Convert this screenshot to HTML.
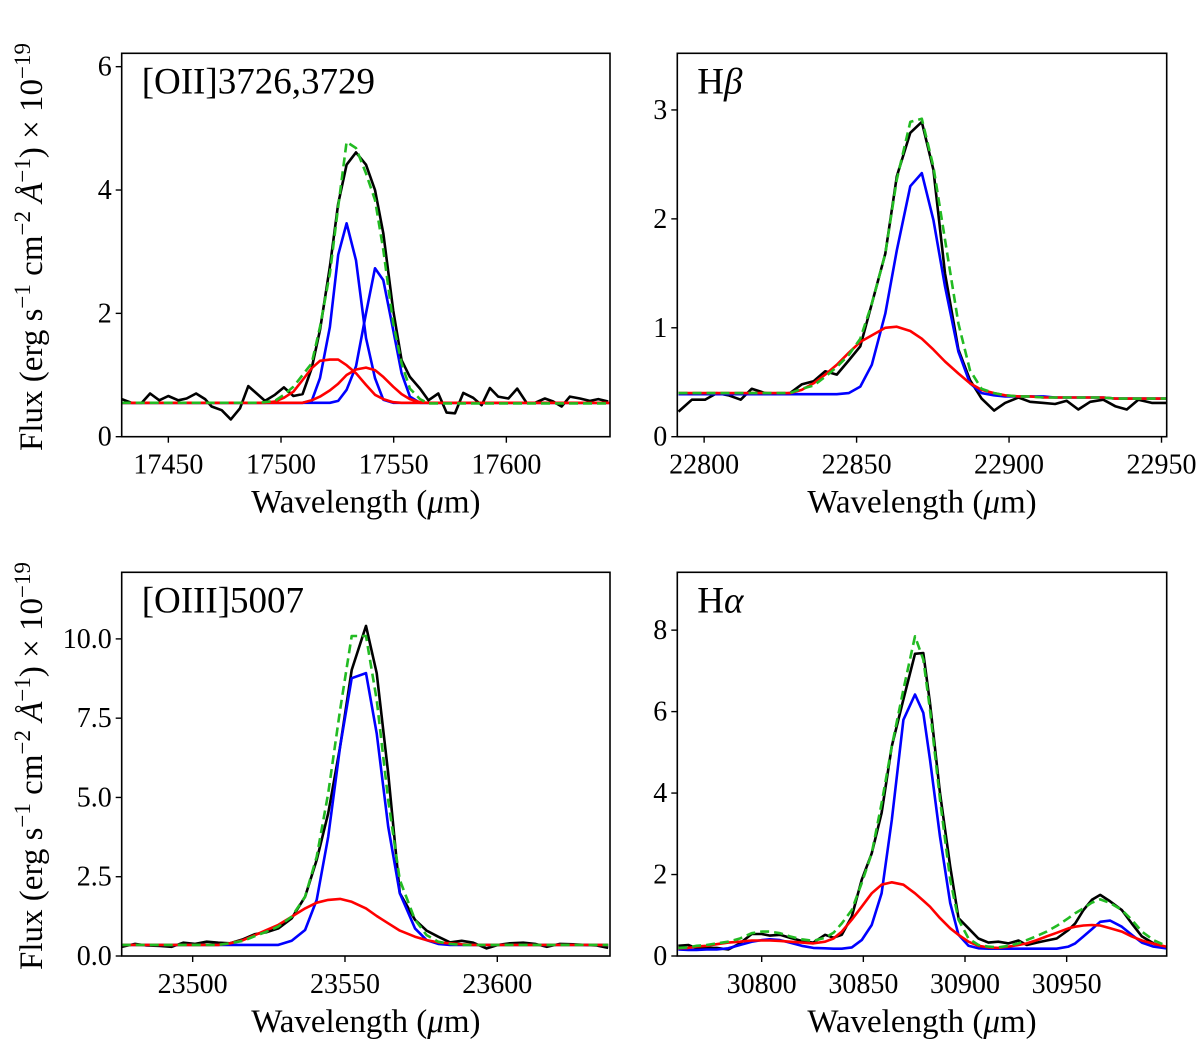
<!DOCTYPE html>
<html><head><meta charset="utf-8">
<style>
html,body{margin:0;padding:0;background:#fff;}
svg{display:block;font-family:"Liberation Serif",serif;}
</style></head>
<body>
<svg id="fig" width="1200" height="1046" viewBox="0 0 1200 1046" xmlns="http://www.w3.org/2000/svg">
<text transform="translate(42,247) rotate(-90)" text-anchor="middle" font-size="33">Flux (erg s<tspan dy="-12" font-size="23">−1</tspan><tspan dy="12"> cm</tspan><tspan dy="-12" font-size="23">−2</tspan><tspan dy="12"> </tspan><tspan font-style="italic">Å</tspan><tspan dy="-12" font-size="23">−1</tspan><tspan dy="12">) × 10</tspan><tspan dy="-12" font-size="23">−19</tspan></text>
<text transform="translate(42,766) rotate(-90)" text-anchor="middle" font-size="33">Flux (erg s<tspan dy="-12" font-size="23">−1</tspan><tspan dy="12"> cm</tspan><tspan dy="-12" font-size="23">−2</tspan><tspan dy="12"> </tspan><tspan font-style="italic">Å</tspan><tspan dy="-12" font-size="23">−1</tspan><tspan dy="12">) × 10</tspan><tspan dy="-12" font-size="23">−19</tspan></text>
</svg>
<script>
// ---------- Panel 1: [OII]3726,3729 ----------
const p1Wl = [17429.3,17433.7,17438.2,17441.9,17446.0,17450,17454.4,17458.1,17462.3,17466.3,17469.2,17473.7,17477.7,17481.8,17485.5,17489.2,17492.9,17497.3,17501.3,17505.5,17509.6,17513.6,17517.3,17521.7,17525.4,17529.1,17533.3,17537.7,17541.7,17545.4,17549.8,17553.5,17557.2,17561.7,17565.4,17569.8,17573.5,17577.2,17580.9,17585.3,17589.0,17592.7,17596.4,17600.9,17604.8,17609.0,17612.7,17617.1,17620.8,17624.5,17628.2,17632.7,17637.1,17640.8,17645.2];
const p1Obs = [0.61,0.55,0.55,0.70,0.59,0.66,0.59,0.62,0.70,0.61,0.49,0.43,0.28,0.46,0.82,0.70,0.58,0.68,0.80,0.66,0.69,1.11,1.73,2.76,3.78,4.41,4.61,4.41,4.00,3.30,2.05,1.24,0.97,0.78,0.59,0.70,0.39,0.38,0.71,0.63,0.51,0.79,0.65,0.62,0.78,0.55,0.55,0.62,0.57,0.49,0.65,0.62,0.58,0.61,0.57];
const p1FitWl = [17429.3,17489.2,17492.9,17497.3,17501.3,17505.5,17509.6,17513.6,17517.3,17521.7,17525.4,17529.1,17533.3,17537.7,17541.7,17545.4,17549.8,17553.5,17557.2,17561.7,17565.4,17646];
const p1Blue1 = [0.55,0.55,0.55,0.55,0.55,0.55,0.55,0.58,0.95,1.78,2.95,3.46,2.86,1.60,0.95,0.60,0.55,0.55,0.55,0.55,0.55,0.55];
const p1Blue2 = [0.55,0.55,0.55,0.55,0.55,0.55,0.55,0.55,0.55,0.55,0.58,0.76,1.14,2.00,2.73,2.54,1.73,1.03,0.65,0.55,0.55,0.55];
const p1Red1 = [0.55,0.55,0.55,0.57,0.63,0.73,0.92,1.11,1.23,1.25,1.25,1.16,1.03,0.84,0.68,0.61,0.56,0.55,0.55,0.55,0.55,0.55];
const p1Red2 = [0.55,0.55,0.55,0.55,0.55,0.55,0.55,0.59,0.65,0.75,0.86,1.00,1.09,1.12,1.08,0.97,0.81,0.69,0.61,0.56,0.55,0.55];
const p1Total = [0.55,0.55,0.56,0.58,0.68,0.81,1.00,1.19,1.78,2.65,3.73,4.78,4.68,4.27,3.84,3.03,1.84,1.19,0.78,0.61,0.54,0.54];
const p1XTicks = [17450,17500,17550,17600];
const p1YTicks = [0,2,4,6];
const p1YTickLabels = ["0","2","4","6"];

// ---------- Panel 2: Hbeta ----------
const p2Wl = [22791.6,22796.0,22800.3,22804.2,22808.0,22812.0,22815.6,22820.0,22823.8,22828.2,22832.0,22835.9,22839.7,22843.5,22847.4,22851.2,22855.0,22859.4,22863.2,22867.6,22871.4,22875.2,22879.0,22883.4,22887.2,22891.0,22895.1,22898.7,22903.1,22906.9,22911.3,22915.1,22918.9,22922.7,22926.6,22930.9,22934.8,22938.6,22942.4,22946.8,22951.5];
const p2Obs = [0.23,0.34,0.34,0.40,0.38,0.34,0.44,0.40,0.39,0.40,0.48,0.51,0.60,0.57,0.70,0.83,1.22,1.68,2.39,2.79,2.89,2.45,1.50,0.80,0.52,0.35,0.24,0.31,0.36,0.32,0.31,0.30,0.33,0.25,0.32,0.34,0.28,0.25,0.34,0.31,0.31];
const p2Blue = [0.39,0.39,0.39,0.39,0.39,0.39,0.39,0.39,0.39,0.39,0.39,0.39,0.39,0.39,0.40,0.46,0.66,1.13,1.71,2.30,2.42,1.99,1.38,0.78,0.49,0.40,0.38,0.37,0.37,0.37,0.37,0.36,0.36,0.36,0.36,0.36,0.35,0.35,0.35,0.35,0.35];
const p2Red = [0.40,0.40,0.40,0.40,0.40,0.40,0.40,0.40,0.40,0.40,0.43,0.49,0.57,0.66,0.77,0.87,0.93,1.00,1.01,0.97,0.90,0.80,0.69,0.58,0.49,0.43,0.40,0.38,0.37,0.37,0.36,0.36,0.36,0.36,0.36,0.36,0.35,0.35,0.35,0.35,0.35];
const p2Total = [0.40,0.40,0.40,0.40,0.40,0.40,0.40,0.40,0.40,0.40,0.44,0.47,0.55,0.64,0.75,0.90,1.22,1.68,2.36,2.89,2.92,2.48,1.81,1.04,0.61,0.44,0.40,0.38,0.37,0.37,0.36,0.36,0.36,0.36,0.36,0.36,0.35,0.35,0.35,0.35,0.35];
const p2XTicks = [22800,22850,22900,22950];
const p2YTicks = [0,1,2,3];
const p2YTickLabels = ["0","1","2","3"];

// ---------- Panel 3: [OIII]5007 ----------
const p3Wl = [23476.7,23481.1,23484.9,23489.3,23493.1,23496.9,23500.8,23504.6,23508.4,23512.3,23516.6,23520.5,23524.3,23528.1,23532.5,23536.9,23540.7,23544.5,23548.4,23552.2,23556.9,23560.4,23564.2,23568.0,23573.0,23576.8,23580.6,23584.5,23588.3,23592.1,23596.5,23600.3,23604.1,23608.5,23612.4,23616.2,23620.6,23624.9,23628.8,23632.6,23636.4];
const p3Obs = [0.29,0.38,0.33,0.32,0.29,0.42,0.38,0.45,0.42,0.40,0.53,0.69,0.75,0.87,1.19,1.87,3.03,4.50,6.60,9.02,10.41,8.92,5.76,1.98,1.14,0.80,0.61,0.43,0.48,0.42,0.24,0.35,0.40,0.42,0.38,0.29,0.38,0.37,0.35,0.33,0.26];
const p3Blue = [0.35,0.35,0.35,0.35,0.35,0.35,0.35,0.35,0.35,0.35,0.35,0.35,0.35,0.35,0.48,0.82,1.77,3.76,6.60,8.76,8.92,7.02,4.08,1.98,0.87,0.50,0.38,0.35,0.35,0.35,0.35,0.35,0.35,0.35,0.35,0.35,0.35,0.35,0.35,0.35,0.35];
const p3Red = [0.35,0.35,0.35,0.35,0.35,0.35,0.35,0.35,0.35,0.40,0.50,0.66,0.82,0.98,1.24,1.50,1.68,1.77,1.80,1.71,1.50,1.26,1.03,0.80,0.61,0.50,0.43,0.40,0.37,0.35,0.35,0.35,0.35,0.35,0.35,0.35,0.35,0.35,0.35,0.35,0.35];
const p3Total = [0.35,0.35,0.35,0.35,0.35,0.35,0.35,0.35,0.35,0.40,0.48,0.63,0.77,0.93,1.24,1.87,3.13,5.13,7.76,10.09,10.09,8.08,4.92,2.40,1.14,0.66,0.45,0.38,0.35,0.35,0.35,0.35,0.35,0.35,0.35,0.35,0.35,0.35,0.35,0.35,0.35];
const p3XTicks = [23500,23550,23600];
const p3YTicks = [0,2.5,5,7.5,10];
const p3YTickLabels = ["0.0","2.5","5.0","7.5","10.0"];

// ---------- Panel 4: Halpha ----------
const p4Wl = [30759.0,30763.9,30768.0,30772.9,30777.9,30783.6,30789.3,30795.1,30800,30804.1,30809.0,30813.9,30819.7,30825.4,30831.2,30835.3,30839.4,30844.3,30849.2,30854.1,30859.0,30864.0,30869.7,30875.4,30879.5,30882.8,30887.7,30892.7,30896.8,30901.7,30906.6,30911.5,30916.4,30921.4,30926.3,30930.4,30935.3,30940.2,30945.1,30950.9,30954.2,30958.3,30962.4,30966.5,30971.4,30977.1,30982.0,30987.0,30992.7,30998.9];
const p4Obs = [0.25,0.27,0.19,0.20,0.20,0.16,0.31,0.54,0.54,0.50,0.52,0.45,0.37,0.33,0.52,0.45,0.52,0.97,1.87,2.52,3.51,5.15,6.30,7.42,7.44,6.21,4.00,2.20,0.93,0.68,0.43,0.33,0.35,0.31,0.38,0.27,0.33,0.38,0.43,0.64,0.80,1.13,1.38,1.50,1.34,1.13,0.80,0.48,0.31,0.20];
const p4Blue = [0.16,0.15,0.15,0.16,0.16,0.19,0.27,0.35,0.39,0.41,0.39,0.33,0.25,0.20,0.19,0.18,0.18,0.21,0.39,0.76,1.54,3.34,5.80,6.42,5.97,4.82,2.93,1.30,0.52,0.25,0.19,0.18,0.18,0.18,0.18,0.18,0.18,0.18,0.18,0.23,0.31,0.48,0.66,0.84,0.87,0.72,0.52,0.33,0.23,0.19];
const p4Red = [0.19,0.20,0.23,0.25,0.29,0.33,0.35,0.38,0.38,0.38,0.37,0.35,0.33,0.31,0.35,0.43,0.60,0.89,1.21,1.54,1.75,1.81,1.75,1.54,1.36,1.21,0.93,0.68,0.52,0.35,0.25,0.21,0.20,0.23,0.27,0.31,0.39,0.48,0.57,0.68,0.72,0.75,0.76,0.75,0.68,0.60,0.48,0.38,0.30,0.23];
const p4Total = [0.20,0.21,0.25,0.27,0.31,0.35,0.43,0.56,0.60,0.60,0.56,0.48,0.41,0.37,0.45,0.57,0.80,1.13,1.79,2.52,3.75,5.15,6.54,7.85,7.28,6.05,3.84,1.87,0.89,0.43,0.27,0.23,0.21,0.25,0.31,0.39,0.49,0.60,0.74,0.93,1.05,1.17,1.31,1.39,1.30,1.13,0.89,0.60,0.39,0.25];
const p4XTicks = [30800,30850,30900,30950];
const p4YTicks = [0,2,4,6,8];
const p4YTickLabels = ["0","2","4","6","8"];

const NS = "http://www.w3.org/2000/svg";
const svg = document.getElementById("fig");
function mk(tag, attrs, parent){
  const e = document.createElementNS(NS, tag);
  for (const k in attrs) e.setAttribute(k, attrs[k]);
  (parent||svg).appendChild(e);
  return e;
}

function drawPanel(cfg){
  const g = mk("g", {});
  
  
  const L=cfg.box[0], T=cfg.box[1], R=cfg.box[2], B=cfg.box[3];
  const xs = v => L + (v - cfg.xmin) / (cfg.xmax - cfg.xmin) * (R - L);
  const ys = v => B - (v - cfg.ymin) / (cfg.ymax - cfg.ymin) * (B - T);
  const clipId = cfg.name + "-clip";
  const cp = mk("clipPath", {id: clipId}, g);
  mk("rect", {x:L, y:T, width:R-L, height:B-T}, cp);
  const plot = mk("g", {"clip-path":"url(#"+clipId+")"}, g);
  
  
  function line(xsArr, ysArr, color, nm, dash){
    let d = "";
    for (let i=0;i<xsArr.length;i++) d += (i?"L":"M") + xs(xsArr[i]).toFixed(1) + "," + ys(ysArr[i]).toFixed(1);
    const p = mk("path", {d:d, fill:"none", stroke:color, "stroke-width":"2.6", "stroke-linejoin":"round"}, plot);
    if (dash) p.setAttribute("stroke-dasharray", dash);
    
    
  }
  line(cfg.wl, cfg.obs, "#000", "observed-spectrum");
  cfg.blues.forEach(b => line(cfg.fitWl, b, "#0000ff", "narrow-component"));
  cfg.reds.forEach(r => line(cfg.fitWl, r, "#ff0000", "broad-component"));
  line(cfg.fitWl, cfg.total, "#22bb22", "total-fit", "9,5");
  const frame = mk("rect", {x:L, y:T, width:R-L, height:B-T, fill:"none", stroke:"#000", "stroke-width":"1.6"}, g);
  
  
  cfg.xticks.forEach(t => {
    const x = xs(t);
    mk("line", {x1:x, y1:B, x2:x, y2:B+6, stroke:"#000", "stroke-width":"1.4"}, g);
    const tx = mk("text", {x:x, y:B+37, "text-anchor":"middle", "font-size":"28"}, g);
    tx.textContent = String(t);
    
    
  });
  cfg.yticks.forEach((t,i) => {
    const y = ys(t);
    mk("line", {x1:L-6, y1:y, x2:L, y2:y, stroke:"#000", "stroke-width":"1.4"}, g);
    const tx = mk("text", {x:L-10, y:y+9, "text-anchor":"end", "font-size":"28"}, g);
    tx.textContent = cfg.ylabels[i];
    
    
  });
  const xl = mk("text", {x:(L+R)/2, y:B+76, "text-anchor":"middle", "font-size":"33"}, g);
  xl.innerHTML = 'Wavelength (<tspan font-style="italic">μ</tspan>m)';
  
  
  const ti = mk("text", {x:L+20, y:T+40, "font-size":"37"}, g);
  ti.innerHTML = cfg.title;
  
  
}

drawPanel({name:"oii-panel", box:[121.7,53.3,610,436.7], xmin:17429.3, xmax:17646, ymin:0, ymax:6.217,
  wl:p1Wl, obs:p1Obs, fitWl:p1FitWl, blues:[p1Blue1,p1Blue2], reds:[p1Red1,p1Red2], total:p1Total,
  xticks:p1XTicks, yticks:p1YTicks, ylabels:p1YTickLabels, title:"[OII]3726,3729"});
drawPanel({name:"hbeta-panel", box:[677.3,53.3,1166.7,436.7], xmin:22791.2, xmax:22951.7, ymin:0, ymax:3.52,
  wl:p2Wl, obs:p2Obs, fitWl:p2Wl, blues:[p2Blue], reds:[p2Red], total:p2Total,
  xticks:p2XTicks, yticks:p2YTicks, ylabels:p2YTickLabels, title:'H<tspan font-style="italic">β</tspan>'});
drawPanel({name:"oiii-panel", box:[121.7,572.3,610,956], xmin:23476.7, xmax:23637, ymin:0, ymax:12.1,
  wl:p3Wl, obs:p3Obs, fitWl:p3Wl, blues:[p3Blue], reds:[p3Red], total:p3Total,
  xticks:p3XTicks, yticks:p3YTicks, ylabels:p3YTickLabels, title:"[OIII]5007"});
drawPanel({name:"halpha-panel", box:[677.3,572.3,1166.7,956], xmin:30758.5, xmax:30999.2, ymin:0, ymax:9.42,
  wl:p4Wl, obs:p4Obs, fitWl:p4Wl, blues:[p4Blue], reds:[p4Red], total:p4Total,
  xticks:p4XTicks, yticks:p4YTicks, ylabels:p4YTickLabels, title:'H<tspan font-style="italic">α</tspan>'});
</script>
</body></html>
